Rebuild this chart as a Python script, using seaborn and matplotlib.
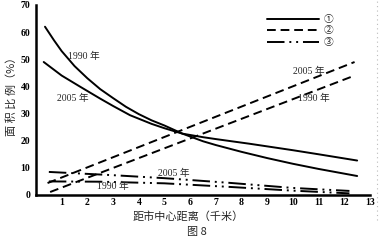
import numpy as np
import pandas as pd
import matplotlib
matplotlib.use("Agg")
import matplotlib.pyplot as plt
from matplotlib.lines import Line2D
import seaborn as sns

# ---- data ----
solid_1990_x = [0.35, 0.7, 1, 1.5, 2, 2.5, 3, 3.5, 4, 4.5, 5, 5.7, 6.5, 7, 8, 9, 10, 11, 12.5]
solid_1990_y = [62, 57, 53, 47.5, 43, 39, 35.7, 32.5, 29.8, 27.5, 25.6, 22.6, 19.8, 18.4, 15.9, 13.6, 11.5, 9.6, 7]
solid_2005_x = [0.3, 1, 1.7, 2.5, 3, 3.66, 4.5, 5, 5.7, 6.5, 7, 8.3, 10, 11, 12.5]
solid_2005_y = [49, 44, 40, 35.5, 32.8, 29.4, 26.2, 24.6, 22.6, 21.3, 20.6, 18.9, 16.5, 15, 12.7]
dash_2005_x = [0.45, 12.4]
dash_2005_y = [4.4, 49]
dash_1990_x = [0.55, 12.4]
dash_1990_y = [1.1, 44]
dd_2005_x = [0.5, 3, 5, 7.5, 10, 12.2]
dd_2005_y = [8.5, 7.3, 6.2, 4.5, 2.6, 1.5]
dd_1990_x = [0.5, 2.5, 5, 7.5, 10, 12.2]
dd_1990_y = [5.0, 4.9, 4.3, 3.0, 1.6, 0.6]

x_ticks = list(range(1, 14))
y_ticks = list(range(0, 80, 10))
legend_labels = ["①", "②", "③"]
x_label = "距市中心距离（千米）"
y_label = "面 积 比 例（%）"
fig_caption = "图 8"

sns.set_style("white")
plt.rcParams['font.family'] = ['Liberation Serif', 'Noto Sans CJK SC', 'DejaVu Sans']

fig = plt.figure(figsize=(3.8, 2.5), dpi=100)
ax = fig.add_axes([36/380, 55/250, 334/380, 190/250])

LW = 1.4
dd_style = (0, (9, 2.5, 1, 2.5, 1, 2.5))
series = [
    (solid_1990_x, solid_1990_y, "-"),
    (solid_2005_x, solid_2005_y, "-"),
    (dash_2005_x, dash_2005_y, (0, (4.5, 2.5))),
    (dash_1990_x, dash_1990_y, (0, (4.5, 2.5))),
    (dd_2005_x, dd_2005_y, dd_style),
    (dd_1990_x, dd_1990_y, dd_style),
]
for xs, ys, ls in series:
    df = pd.DataFrame({"x": xs, "y": ys})
    sns.lineplot(data=df, x="x", y="y", ax=ax, color="black", linewidth=LW,
                 linestyle=ls, sort=False, estimator=None)

ax.set_xlim(0, 13)
ax.set_ylim(0, 70)
ax.set_xticks(x_ticks)
ax.set_yticks(y_ticks)
ax.set_xticklabels([str(t) for t in x_ticks], fontsize=7, fontweight='bold')
ax.set_yticklabels([str(t) for t in y_ticks], fontsize=7, fontweight='bold')
ax.tick_params(axis='y', direction='out', length=3, width=1.2, pad=1, colors='black')
ax.tick_params(axis='x', direction='in', length=2, width=1, pad=2, colors='black')
for s in ['top', 'right']:
    ax.spines[s].set_visible(False)
for s in ['left', 'bottom']:
    ax.spines[s].set_linewidth(1.8)
    ax.spines[s].set_color('black')
ax.set_xlabel("")
ax.set_ylabel("")

cjk = ['Noto Sans CJK SC', 'DejaVu Sans']
fig.text(188/380, 1 - 217/250, x_label, ha='center', va='center', fontsize=8, family=cjk)
fig.text(197/380, 1 - 232/250, fig_caption, ha='center', va='center', fontsize=8, family=cjk)
fig.text(11/380, 1 - 94/250, y_label, ha='center', va='center', fontsize=8,
         rotation=90, family=cjk)

ann_fs = 7
def lab(px, py, s):
    fig.text(px/380, 1 - py/250, s, ha='left', va='center', fontsize=ann_fs,
             family=['Liberation Serif', 'Noto Sans CJK SC'])
lab(68, 56, "1990 年")
lab(57, 98, "2005 年")
lab(293, 71, "2005 年")
lab(298, 98, "1990 年")
lab(158, 173, "2005 年")
lab(97, 186, "1990 年")

handles = [Line2D([], [], color='black', lw=LW, linestyle=ls)
           for ls in ["-", (0, (4.5, 2.5)), dd_style]]
leg = ax.legend(handles, legend_labels, loc='upper left',
                bbox_to_anchor=(267/380, 1 - 14/250), bbox_transform=fig.transFigure,
                frameon=False, handlelength=5.3, handletextpad=0.5, labelspacing=0.15,
                borderpad=0, borderaxespad=0,
                prop={'family': ['Noto Sans CJK SC', 'DejaVu Sans'], 'size': 7})

# faint dotted border at the right edge as in the scan
fig.add_artist(Line2D([377/380, 377/380], [0.12, 1.0], transform=fig.transFigure,
                      color='#bbbbbb', lw=0.8, linestyle=(0, (1, 3))))

fig.savefig("out.png", dpi=100)
